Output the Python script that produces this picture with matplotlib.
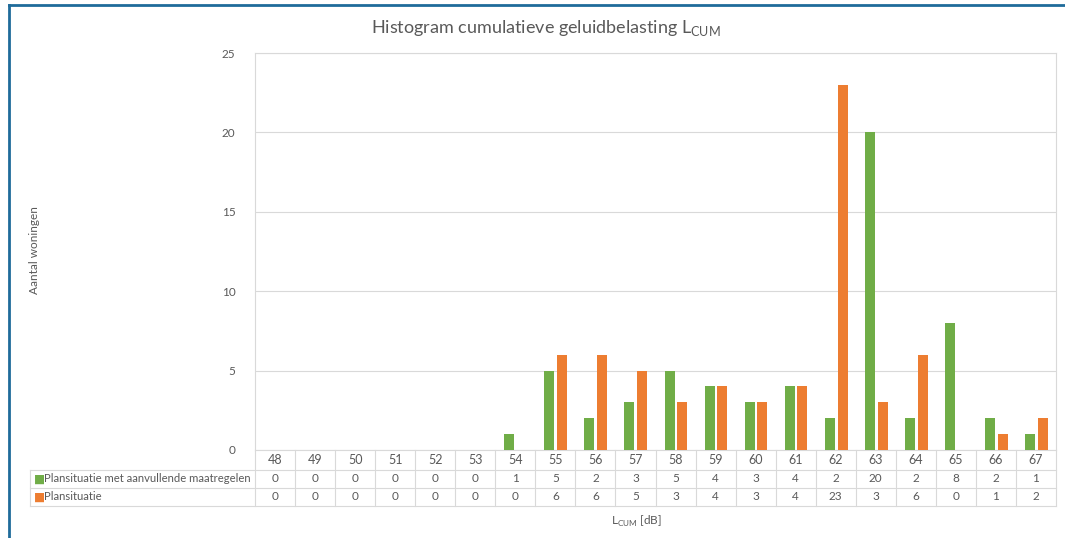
import matplotlib.pyplot as plt
import matplotlib.transforms as mtransforms
from matplotlib.lines import Line2D

plt.rcParams['font.family'] = ['Lato', 'DejaVu Sans']
plt.rcParams['mathtext.fontset'] = 'custom'
plt.rcParams['mathtext.rm'] = 'Lato'

# Data
levels = [48, 49, 50, 51, 52, 53, 54, 55, 56, 57, 58, 59, 60, 61, 62, 63, 64, 65, 66, 67]
met_maatregelen = [0, 0, 0, 0, 0, 0, 1, 5, 2, 3, 5, 4, 3, 4, 2, 20, 2, 8, 2, 1]
plansituatie = [0, 0, 0, 0, 0, 0, 0, 6, 6, 5, 3, 4, 3, 4, 23, 3, 6, 0, 1, 2]
series_names = ["Plansituatie met aanvullende maatregelen", "Plansituatie"]
yticks = [0, 5, 10, 15, 20, 25]

green = "#70AD47"
orange = "#ED7D31"
txt = "#595959"
grid = "#D9D9D9"

W, H = 1065, 538
fig = plt.figure(figsize=(W / 100, H / 100), dpi=100)
ax = fig.add_axes([255 / W, 1 - 450 / H, (1056 - 255) / W, (450 - 53) / H])

n = len(levels)
xs = list(range(n))
ax.bar([x - 0.15 for x in xs], met_maatregelen, width=0.25, color=green, zorder=3)
ax.bar([x + 0.17 for x in xs], plansituatie, width=0.25, color=orange, zorder=3)

ax.set_xlim(-0.5, n - 0.5)
ax.set_ylim(0, 25)
ax.set_yticks(yticks)
ax.set_xticks([])
ax.tick_params(axis='y', length=0, pad=14, labelsize=8.5, labelcolor=txt)
ax.yaxis.grid(True, color=grid, lw=0.8, zorder=0)
for s in ax.spines.values():
    s.set_color(grid)
    s.set_linewidth(0.8)

# data table under the plot
trans = mtransforms.blended_transform_factory(ax.transData, ax.transAxes)
ph = 450 - 53
row_h = [20 / ph, 18 / ph, 18 / ph]
ys = [0]
for h in row_h:
    ys.append(ys[-1] - h)
left = (30 - 255) / (1056 - 255)

kw = dict(color=grid, lw=0.8, clip_on=False)
for yy in ys[1:]:
    ax.add_line(Line2D([left, 1], [yy, yy], transform=ax.transAxes, **kw))
ax.add_line(Line2D([left, left], [ys[1], ys[3]], transform=ax.transAxes, **kw))
for i in range(n + 1):
    ax.add_line(Line2D([i - 0.5, i - 0.5], [ys[0], ys[3]], transform=trans, **kw))

for i, lv in enumerate(levels):
    ax.text(i, (ys[0] + ys[1]) / 2, str(lv), transform=trans, ha='center', va='center',
            fontsize=9, color=txt)
    ax.text(i, (ys[1] + ys[2]) / 2, str(met_maatregelen[i]), transform=trans, ha='center',
            va='center', fontsize=8.5, color=txt)
    ax.text(i, (ys[2] + ys[3]) / 2, str(plansituatie[i]), transform=trans, ha='center',
            va='center', fontsize=8.5, color=txt)

for k, (name, col) in enumerate(zip(series_names, [green, orange])):
    yc = (ys[k + 1] + ys[k + 2]) / 2
    ax.text(left + 0.005, yc, "\u25A0", transform=ax.transAxes, ha='left', va='center',
            fontsize=8.5, color=col, family='DejaVu Sans')
    ax.text(left + 0.018, yc, name, transform=ax.transAxes, ha='left', va='center',
            fontsize=8.1, color=txt)

# titles and labels
fig.text(546 / W, 1 - 28 / H, r"Histogram cumulatieve geluidbelasting L$_\mathrm{CUM}$",
         ha='center', va='center', fontsize=13, color=txt)
fig.text(34 / W, 1 - 250 / H, "Aantal woningen", rotation=90, ha='center', va='center',
         fontsize=8.5, color=txt)
fig.text(636 / W, 1 - 521 / H, r"L$_\mathrm{CUM}$ [dB]", ha='center', va='center',
         fontsize=8.5, color=txt)

# blue frame on top and left
fig.add_artist(Line2D([9 / W, 1], [1 - 5 / H, 1 - 5 / H], transform=fig.transFigure,
                      color="#1F6B9A", lw=2))
fig.add_artist(Line2D([9 / W, 9 / W], [0, 1 - 5 / H], transform=fig.transFigure,
                      color="#1F6B9A", lw=2))

fig.savefig("out.png", dpi=100)
